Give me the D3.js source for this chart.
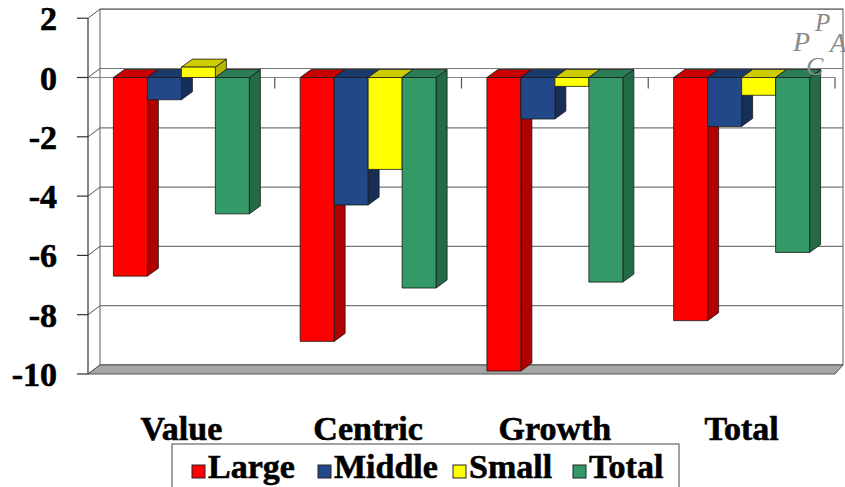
<!DOCTYPE html>
<html>
<head>
<meta charset="utf-8">
<script src="https://cdn.jsdelivr.net/npm/d3@7"></script>
<style>
  body { margin: 0; background: #fff; }
  svg text { font-family: "Liberation Serif", "DejaVu Serif", serif; }
</style>
</head>
<body>
<div id="chart"></div>
<script>
const WIDTH = 845, HEIGHT = 487;
const FONT = "Liberation Serif, DejaVu Serif, serif";

const categories = ["Value", "Centric", "Growth", "Total"];
const series = ["Large", "Middle", "Small", "Total"];
const large  = [-6.7, -8.9, -9.9, -8.2];
const middle = [-0.75, -4.3, -1.4, -1.65];
const small  = [0.35, -3.1, -0.3, -0.6];
const total  = [-4.6, -7.1, -6.9, -5.9];
const yTicks = [2, 0, -2, -4, -6, -8, -10];

const values = [large, middle, small, total];
const colors = {
  Large:  { front: "#ff0000", top: "#c80000", side: "#b00000" },
  Middle: { front: "#22488a", top: "#1b3a6c", side: "#172f58" },
  Small:  { front: "#ffff00", top: "#cccc00", side: "#b8b800" },
  Total:  { front: "#339966", top: "#2a7d54", side: "#236a47" }
};

// 3d offsets
const WDX = 12, WDY = -9;   // walls
const BDX = 11, BDY = -8;   // bars

const L = 88, R = 835, TOP = 18.2, BOT = 374;

const svg = d3.select("#chart").append("svg")
  .attr("width", WIDTH).attr("height", HEIGHT);

const y = d3.scaleLinear().domain([-10, 2]).range([BOT, TOP]);
const x0 = d3.scaleBand().domain(categories).range([L, R])
  .paddingInner(0.272).paddingOuter(0.136);
const x1 = d3.scaleBand().domain(series).range([0, x0.bandwidth()]);

// back wall
svg.append("rect")
  .attr("x", L + WDX).attr("y", TOP + WDY)
  .attr("width", WIDTH - 2 - (L + WDX)).attr("height", BOT - TOP)
  .attr("fill", "#fff").attr("stroke", "#777").attr("stroke-width", 1.2);

// gridlines on back wall + diagonals on left wall
const grid = svg.append("g");
grid.selectAll("line.h").data(yTicks).join("line")
  .attr("x1", L + WDX).attr("x2", WIDTH - 2)
  .attr("y1", d => y(d) + WDY).attr("y2", d => y(d) + WDY)
  .attr("stroke", "#777").attr("stroke-width", 1.2);
grid.selectAll("line.d").data(yTicks).join("line")
  .attr("x1", L).attr("x2", L + WDX)
  .attr("y1", d => y(d)).attr("y2", d => y(d) + WDY)
  .attr("stroke", "#555").attr("stroke-width", 1);

// floor
svg.append("path")
  .attr("d", `M${L},${BOT} L${L + WDX},${BOT + WDY} L${WIDTH - 2},${BOT + WDY} L${R},${BOT} Z`)
  .attr("fill", "#a6a6a6").attr("stroke", "#555").attr("stroke-width", 1);

// left axis
svg.append("line").attr("x1", L).attr("x2", L).attr("y1", TOP).attr("y2", BOT)
  .attr("stroke", "#333").attr("stroke-width", 1.2);
svg.append("g").selectAll("line").data(yTicks).join("line")
  .attr("x1", L - 11).attr("x2", L)
  .attr("y1", d => y(d)).attr("y2", d => y(d))
  .attr("stroke", "#333").attr("stroke-width", 1.2);
svg.append("g").selectAll("text").data(yTicks).join("text")
  .attr("x", 57).attr("y", d => y(d) + 12)
  .attr("text-anchor", "end")
  .attr("stroke", "#000").attr("stroke-width", 0.6)
  .style("font-family", FONT).style("font-weight", "bold")
  .style("font-size", "34px")
  .text(d => String(d));

// category axis at zero
svg.append("line").attr("x1", L).attr("x2", R).attr("y1", y(0)).attr("y2", y(0))
  .attr("stroke", "#888").attr("stroke-width", 1);
const bounds = categories.map((c, i) => L + x0.step() * (i + 1));
svg.append("g").selectAll("line").data(bounds).join("line")
  .attr("x1", d => d).attr("x2", d => d)
  .attr("y1", y(0)).attr("y2", y(0) + 11)
  .attr("stroke", "#555").attr("stroke-width", 1.2);

// bars
const bars = [];
categories.forEach((c, i) => {
  series.forEach((s, j) => bars.push({ cat: c, ser: s, v: values[j][i] }));
});

const bw = x1.bandwidth();
const barG = svg.append("g").selectAll("g").data(bars).join("g")
  .attr("stroke", "#1a1a1a").attr("stroke-width", 0.8).attr("stroke-linejoin", "round");

barG.each(function(d) {
  const g = d3.select(this);
  const bx = x0(d.cat) + x1(d.ser);
  const yt = y(Math.max(0, d.v)), yb = y(Math.min(0, d.v));
  const c = colors[d.ser];
  g.append("path")
    .attr("d", `M${bx + bw},${yt} L${bx + bw + BDX},${yt + BDY} L${bx + bw + BDX},${yb + BDY} L${bx + bw},${yb} Z`)
    .attr("fill", c.side);
  g.append("path")
    .attr("d", `M${bx},${yt} L${bx + BDX},${yt + BDY} L${bx + bw + BDX},${yt + BDY} L${bx + bw},${yt} Z`)
    .attr("fill", c.top);
  g.append("rect")
    .attr("x", bx).attr("y", yt).attr("width", bw).attr("height", yb - yt)
    .attr("fill", c.front);
});

// category labels
svg.append("g").selectAll("text").data(categories).join("text")
  .attr("x", d => x0(d) + x0.bandwidth() / 2)
  .attr("y", 440)
  .attr("text-anchor", "middle")
  .attr("stroke", "#000").attr("stroke-width", 0.6)
  .style("font-family", FONT).style("font-weight", "bold")
  .style("font-size", "34px")
  .text(d => d);

// legend
const legend = svg.append("g");
legend.append("rect")
  .attr("x", 172).attr("y", 444).attr("width", 507).attr("height", 44)
  .attr("fill", "#fff").attr("stroke", "#666").attr("stroke-width", 1.2);
const legX = [192, 318, 453, 573];
const items = legend.selectAll("g.item").data(series).join("g")
  .attr("transform", (d, i) => `translate(${legX[i]},472)`);
items.append("rect")
  .attr("x", 0).attr("y", -7).attr("width", 13).attr("height", 13)
  .attr("fill", d => colors[d].front).attr("stroke", "#222").attr("stroke-width", 1);
items.append("text")
  .attr("x", 16).attr("y", 6)
  .attr("stroke", "#000").attr("stroke-width", 0.6)
  .style("font-family", FONT).style("font-weight", "bold")
  .style("font-size", "34px")
  .text(d => d);

// logo
const logo = svg.append("text").attr("fill", "#8a8a8a")
  .style("font-family", FONT).style("font-style", "italic");
logo.append("tspan").attr("x", 793).attr("y", 51).style("font-size", "28px").text("P");
logo.append("tspan").attr("x", 806).attr("y", 75).style("font-size", "26px").text("C");
logo.append("tspan").attr("x", 815).attr("y", 31).style("font-size", "25px").text("P");
logo.append("tspan").attr("x", 830).attr("y", 52).style("font-size", "27px").text("A");
</script>
</body>
</html>
